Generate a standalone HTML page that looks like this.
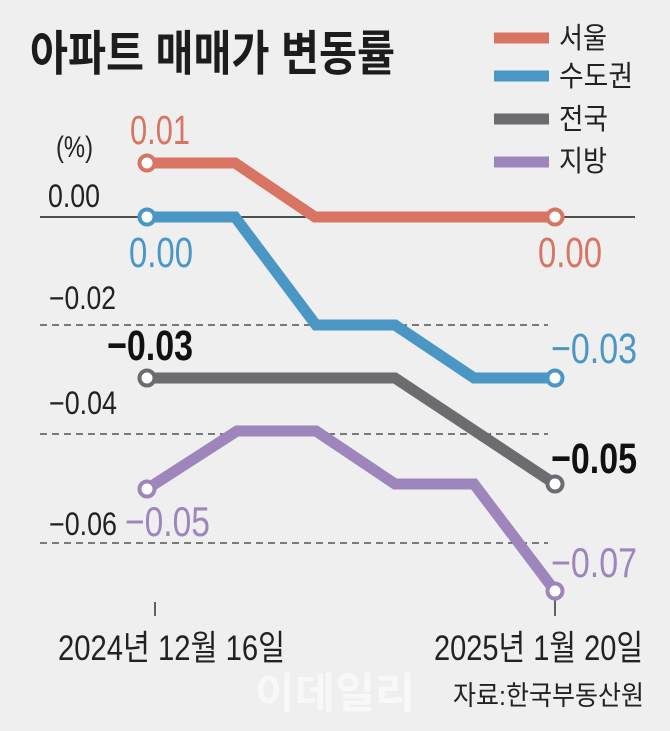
<!DOCTYPE html>
<html>
<head>
<meta charset="utf-8">
<style>
  html, body { margin: 0; padding: 0; background: #efefef; }
  svg { display: block; }
  .kr { font-family: "Liberation Sans", "Noto Sans CJK KR", sans-serif; }
  .num { font-family: "Liberation Sans", sans-serif; }
</style>
</head>
<body>
<svg width="670" height="731" viewBox="0 0 670 731" xmlns="http://www.w3.org/2000/svg">
  <rect x="0" y="0" width="670" height="731" fill="#efefef"/>

  <!-- Title -->
  <text class="kr" x="30" y="70" font-size="48" font-weight="bold" fill="#1c1c1c" textLength="365" lengthAdjust="spacingAndGlyphs">아파트 매매가 변동률</text>

  <!-- Legend -->
  <line x1="494" y1="38" x2="549" y2="38" stroke="#d87562" stroke-width="11"/>
  <line x1="494" y1="76" x2="549" y2="76" stroke="#4a97c6" stroke-width="11"/>
  <line x1="494" y1="119" x2="549" y2="119" stroke="#6b6b70" stroke-width="11"/>
  <line x1="494" y1="162" x2="549" y2="162" stroke="#9e85bb" stroke-width="11"/>
  <text class="kr" x="559" y="48" font-size="29" fill="#222" textLength="48" lengthAdjust="spacingAndGlyphs">서울</text>
  <text class="kr" x="559" y="86" font-size="29" fill="#222" textLength="74" lengthAdjust="spacingAndGlyphs">수도권</text>
  <text class="kr" x="559" y="129" font-size="29" fill="#222" textLength="49" lengthAdjust="spacingAndGlyphs">전국</text>
  <text class="kr" x="559" y="171" font-size="29" fill="#222" textLength="48" lengthAdjust="spacingAndGlyphs">지방</text>

  <!-- Axis unit and labels -->
  <text class="num" x="56" y="157" font-size="30" fill="#222" textLength="37" lengthAdjust="spacingAndGlyphs">(%)</text>
  <text class="num" x="48" y="207" font-size="32" fill="#222" textLength="52" lengthAdjust="spacingAndGlyphs">0.00</text>
  <text class="num" x="49" y="309" font-size="32" fill="#222" textLength="67" lengthAdjust="spacingAndGlyphs">−0.02</text>
  <text class="num" x="49" y="414" font-size="32" fill="#222" textLength="68" lengthAdjust="spacingAndGlyphs">−0.04</text>
  <text class="num" x="49" y="535" font-size="32" fill="#222" textLength="68" lengthAdjust="spacingAndGlyphs">−0.06</text>

  <!-- Grid -->
  <line x1="40" y1="217" x2="635" y2="217" stroke="#1a1a1a" stroke-width="1.5"/>
  <line x1="40" y1="325" x2="548" y2="325" stroke="#333" stroke-width="1.3" stroke-dasharray="7 5"/>
  <line x1="40" y1="434" x2="548" y2="434" stroke="#333" stroke-width="1.3" stroke-dasharray="7 5"/>
  <line x1="40" y1="543" x2="548" y2="543" stroke="#333" stroke-width="1.3" stroke-dasharray="7 5"/>

  <!-- Ticks -->
  <line x1="155" y1="602" x2="155" y2="616" stroke="#333" stroke-width="1.5"/>
  <line x1="555" y1="596" x2="555" y2="616" stroke="#333" stroke-width="1.5"/>

  <!-- Series -->
  <polyline points="147,163 235,163 315,217 555,217" fill="none" stroke="#d87562" stroke-width="11" stroke-linejoin="miter"/>
  <polyline points="147,217 235,217 316,325 395,325 474,378 555,378" fill="none" stroke="#4a97c6" stroke-width="11" stroke-linejoin="miter"/>
  <polyline points="147,378 395,378 555,484" fill="none" stroke="#6b6b70" stroke-width="11" stroke-linejoin="miter"/>
  <polyline points="147,489 237,431 316,431 395,484 474,484 555,591" fill="none" stroke="#9e85bb" stroke-width="11" stroke-linejoin="miter"/>

  <!-- Markers -->
  <circle cx="147" cy="163" r="7.5" fill="#fff" stroke="#d87562" stroke-width="4"/>
  <circle cx="555" cy="217" r="7.5" fill="#fff" stroke="#d87562" stroke-width="4"/>
  <circle cx="147" cy="217" r="7.5" fill="#fff" stroke="#4a97c6" stroke-width="4"/>
  <circle cx="555" cy="378" r="7.5" fill="#fff" stroke="#4a97c6" stroke-width="4"/>
  <circle cx="147" cy="378" r="7.5" fill="#fff" stroke="#6b6b70" stroke-width="4"/>
  <circle cx="555" cy="484" r="7.5" fill="#fff" stroke="#6b6b70" stroke-width="4"/>
  <circle cx="147" cy="489" r="7.5" fill="#fff" stroke="#9e85bb" stroke-width="4"/>
  <circle cx="555" cy="591" r="7.5" fill="#fff" stroke="#9e85bb" stroke-width="4"/>

  <!-- Value labels -->
  <text class="num" x="130" y="144" font-size="41" fill="#d87562" textLength="60" lengthAdjust="spacingAndGlyphs">0.01</text>
  <text class="num" x="129" y="267" font-size="43" fill="#4a97c6" textLength="64" lengthAdjust="spacingAndGlyphs">0.00</text>
  <text class="num" x="538" y="267" font-size="43" fill="#d87562" textLength="64" lengthAdjust="spacingAndGlyphs">0.00</text>
  <text class="num" x="551" y="363" font-size="43" fill="#4a97c6" textLength="86" lengthAdjust="spacingAndGlyphs">−0.03</text>
  <text class="num" x="107" y="360" font-size="43" font-weight="bold" fill="#111" textLength="86" lengthAdjust="spacingAndGlyphs">−0.03</text>
  <text class="num" x="551" y="473" font-size="43" font-weight="bold" fill="#111" textLength="86" lengthAdjust="spacingAndGlyphs">−0.05</text>
  <text class="num" x="125" y="536" font-size="42" fill="#9e85bb" textLength="85" lengthAdjust="spacingAndGlyphs">−0.05</text>
  <text class="num" x="551" y="577" font-size="42" fill="#9e85bb" textLength="86" lengthAdjust="spacingAndGlyphs">−0.07</text>

  <!-- X labels -->
  <text class="kr" x="58" y="660" font-size="35" fill="#222" textLength="227" lengthAdjust="spacingAndGlyphs">2024년 12월 16일</text>
  <text class="kr" x="434" y="660" font-size="35" fill="#222" textLength="209" lengthAdjust="spacingAndGlyphs">2025년 1월 20일</text>

  <!-- Watermark -->
  <text class="kr" x="255" y="708" font-size="42" font-weight="bold" fill="#f8f8f8" textLength="160" lengthAdjust="spacingAndGlyphs">이데일리</text>

  <!-- Source -->
  <text class="kr" x="453" y="705" font-size="27" fill="#222" textLength="191" lengthAdjust="spacingAndGlyphs">자료:한국부동산원</text>
</svg>
</body>
</html>
